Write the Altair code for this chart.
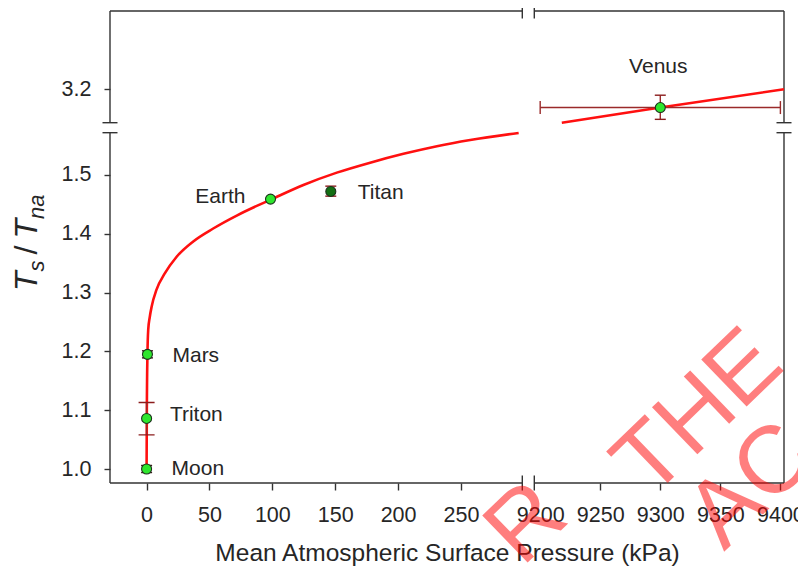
import altair as alt
import pandas as pd

# ---------------- data ----------------
planets = ["Moon", "Triton", "Mars", "Earth", "Titan", "Venus"]
pressure_kpa = [0.0, 0.0014, 0.69, 98.55, 146.5, 9300.0]
ts_tna = [1.000, 1.086, 1.195, 1.459, 1.472, 3.169]
ts_tna_low = [0.994, 1.058, 1.189, 1.459, 1.464, 3.149]
ts_tna_high = [1.006, 1.113, 1.201, 1.459, 1.481, 3.190]
pressure_low = [0.0, 0.0014, 0.69, 98.55, 146.5, 9200.0]
pressure_high = [0.0, 0.0014, 0.69, 98.55, 146.5, 9400.0]

# regression curve (left and right part of the broken axis)
fit_p_left = [0.0, 0.2, 0.69, 1.3, 2.5, 4.0, 7.9, 14.6, 23.9, 37.1, 53.0, 71.7, 87.6,
              98.2, 124.7, 151.3, 177.8, 204.3, 230.9, 257.4, 295.9]
fit_r_left = [1.0, 1.10, 1.196, 1.237, 1.258, 1.276, 1.305, 1.333, 1.361, 1.387, 1.409,
              1.431, 1.4474, 1.4576, 1.483, 1.504, 1.521, 1.536, 1.549, 1.5595, 1.5715]
fit_p_right = [9218.0, 9300.0, 9403.0]
fit_r_right = [3.1433, 3.169, 3.200]

x_tick_values = [0, 50, 100, 150, 200, 250, 9200, 9250, 9300, 9350, 9400]
y_tick_values = [1.0, 1.1, 1.2, 1.3, 1.4, 1.5, 3.2]
x_segments = [-29.1, 298.8, 9195.1, 9403.0]   # broken x axis: [start, break, resume, end]
y_segments = [0.9762, 1.5719, 3.1433, 3.333]  # broken y axis

x_title = "Mean Atmospheric Surface Pressure (kPa)"
watermark_a = "R"
watermark_b = "THE"
watermark_c = "AC"

# ---------------- layout / style ----------------
W, H = 674, 472
FONT = "Liberation Sans"
INK = "#262626"
FRAME = "#333333"

xs = alt.Scale(domain=x_segments, range=[0, 412.3, 424.3, W], nice=False, zero=False)
ys = alt.Scale(domain=y_segments, range=[H, 121.7, 111.7, 0], nice=False, zero=False)

x_axis = alt.Axis(values=x_tick_values, format="d", title=x_title, domain=False, grid=False,
                  ticks=True, tickSize=7, tickWidth=1.4, tickColor=FRAME,
                  tickOpacity={"condition": {"test": "datum.value === 9200", "value": 0}, "value": 1},
                  labelFont=FONT, labelFontSize=21.5, labelColor=INK, labelPadding=14,
                  labelOverlap=False, labelFlush=False,
                  titleFont=FONT, titleFontSize=24.5, titleFontWeight="normal", titleColor=INK,
                  titlePadding=16)
y_axis = alt.Axis(values=y_tick_values, format=".1f", title=None, domain=False, grid=False,
                  ticks=True, tickSize=6, tickWidth=1.4, tickColor=FRAME,
                  labelFont=FONT, labelFontSize=21.5, labelColor=INK, labelPadding=13,
                  labelOverlap=False, labelFlush=False)


def X(f):
    return alt.X(f, scale=xs, axis=x_axis)


def Y(f):
    return alt.Y(f, scale=ys, axis=y_axis)


x0, x1, x2, x3 = x_segments
y0, y1, y2, y3 = y_segments

# frame (axis lines with gaps at the breaks)
frame_df = pd.DataFrame({
    "P": [x0, x2, x0, x2, x0, x0, x3, x3],
    "P2": [x1, x3, x1, x3, x0, x0, x3, x3],
    "R": [y0, y0, y3, y3, y0, y2, y0, y2],
    "R2": [y0, y0, y3, y3, y1, y3, y1, y3],
})
frame = alt.Chart(frame_df).mark_rule(color=FRAME, strokeWidth=1.4).encode(
    x=X("P:Q"), x2="P2:Q", y=Y("R:Q"), y2="R2:Q")

vbreak_df = pd.DataFrame({"P": [x1, x2, x1, x2], "R": [y0, y0, y3, y3]})
vbreaks = alt.Chart(vbreak_df).mark_tick(orient="vertical", size=15, thickness=1.4,
                                         color=FRAME, opacity=1).encode(x=X("P:Q"), y=Y("R:Q"))
hbreak_df = pd.DataFrame({"P": [x0, x0, x3, x3], "R": [y1, y2, y1, y2]})
hbreaks = alt.Chart(hbreak_df).mark_tick(orient="horizontal", size=15, thickness=1.4,
                                         color=FRAME, opacity=1).encode(x=X("P:Q"), y=Y("R:Q"))

# regression curve
curve_df = pd.DataFrame({
    "P": fit_p_left + fit_p_right,
    "R": fit_r_left + fit_r_right,
    "seg": ["left"] * len(fit_p_left) + ["right"] * len(fit_p_right),
})
curve = alt.Chart(curve_df).mark_line(color="#ff1010", strokeWidth=2.6, interpolate="monotone").encode(
    x=X("P:Q"), y=Y("R:Q"), detail="seg:N")

pts = pd.DataFrame({"planet": planets, "P": pressure_kpa, "R": ts_tna,
                    "Rlo": ts_tna_low, "Rhi": ts_tna_high,
                    "Plo": pressure_low, "Phi": pressure_high})
err = pts[pts["Rlo"] != pts["Rhi"]]
ERR = "#9a2a2a"

vbars = alt.Chart(err).mark_rule(color=ERR, strokeWidth=1.4).encode(
    x=X("P:Q"), y=Y("Rlo:Q"), y2="Rhi:Q")
xerr = pts[pts["Plo"] != pts["Phi"]]
hbars = alt.Chart(xerr).mark_rule(color=ERR, strokeWidth=1.4).encode(
    x=X("Plo:Q"), x2="Phi:Q", y=Y("R:Q"))

caps_df = pd.concat([
    pd.DataFrame({"planet": err["planet"], "P": err["P"], "R": err["Rlo"]}),
    pd.DataFrame({"planet": err["planet"], "P": err["P"], "R": err["Rhi"]}),
])
caps = alt.Chart(caps_df).mark_tick(orient="horizontal", thickness=1.4, opacity=1).encode(
    x=X("P:Q"), y=Y("R:Q"),
    color=alt.condition(alt.FieldOneOfPredicate(field="planet", oneOf=["Moon", "Mars"]),
                        alt.value("#3a1a1a"), alt.value("#8b1c1c")),
    size=alt.condition(alt.datum.planet == "Triton", alt.value(16), alt.value(11)))
xcaps_df = pd.concat([
    pd.DataFrame({"P": xerr["Plo"], "R": xerr["R"]}),
    pd.DataFrame({"P": xerr["Phi"], "R": xerr["R"]}),
])
xcaps = alt.Chart(xcaps_df).mark_tick(orient="vertical", size=13, thickness=1.4, color=ERR,
                                      opacity=1).encode(x=X("P:Q"), y=Y("R:Q"))

points = alt.Chart(pts).mark_circle(size=100, stroke="#1d331d", strokeWidth=1.1, opacity=1).encode(
    x=X("P:Q"), y=Y("R:Q"),
    color=alt.condition(alt.datum.planet == "Titan", alt.value("#136f13"), alt.value("#2ee62e")))

# planet labels: (dx, dy, align)
LABEL_STYLE = {"Moon": (25, 5.6, "left"), "Triton": (23.3, 2.7, "left"),
               "Mars": (25, 8, "left"), "Earth": (-25, 4, "right"),
               "Titan": (27, 7.3, "left"), "Venus": (-2, -34.6, "center")}
label_layers = []
for name in planets:
    dx, dy, align = LABEL_STYLE[name]
    label_layers.append(
        alt.Chart(pts[pts["planet"] == name]).mark_text(
            font=FONT, fontSize=21, color=INK, align=align, baseline="alphabetic", dx=dx, dy=dy
        ).encode(x=X("P:Q"), y=Y("R:Q"), text="planet:N"))

# y-axis title  T_s / T_na  built from pieces (rotated, read bottom to top)
# (text, font size, baseline shift, style, advance in px after the piece)
title_pieces = [("T", 32, 0, "italic", 19.5), ("s", 22, 7, "italic", 17.0),
                ("/", 32, 0, "normal", 16.0),
                ("T", 32, 0, "italic", 19.5), ("na", 22, 7, "italic", 24.0)]
title_layers = []
cursor = 280.0
for txt, fs, shift, style, adv in title_pieces:
    title_layers.append(
        alt.Chart(pd.DataFrame({"t": [txt]})).mark_text(
            font=FONT, fontSize=fs, fontStyle=style, color=INK, angle=270,
            align="left", baseline="alphabetic"
        ).encode(text="t:N", x=alt.value(-73 + shift), y=alt.value(cursor)))
    cursor -= adv

# watermark (semi-transparent red, diagonal)
def wm(txt, px, py):
    return alt.Chart(pd.DataFrame({"t": [txt]})).mark_text(
        font=FONT, fontSize=95, angle=316, align="left", baseline="alphabetic",
        color="#ff0000", opacity=0.5).encode(text="t:N", x=alt.value(px), y=alt.value(py))


wm1 = wm(watermark_a, 522 - 110, 568 - 11)
wm2 = wm(watermark_b, 650 - 110, 500 - 11)
wm3 = wm(watermark_c, 724 - 110, 552 - 11)

chart = alt.layer(
    frame, vbreaks, hbreaks, curve, hbars, vbars, caps, xcaps, points,
    *label_layers, *title_layers, wm1, wm2, wm3
).properties(
    width=W, height=H,
    autosize=alt.AutoSizeParams(type="none"),
    padding={"left": 102, "top": 3, "right": 14, "bottom": 84},
    background="white",
).configure_view(stroke=None)

chart.save("out.html", embed_options={"renderer": "svg", "actions": False})
